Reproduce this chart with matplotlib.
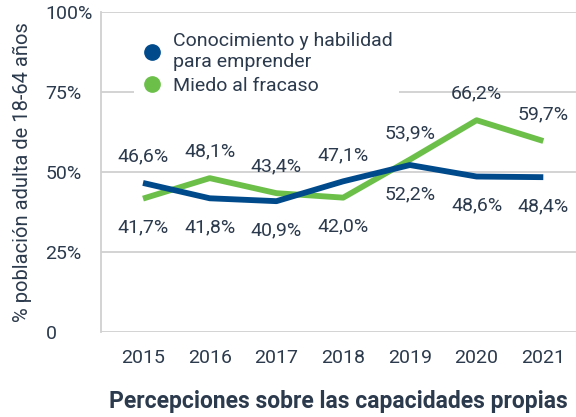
import numpy as np
import matplotlib
matplotlib.use('Agg')
import matplotlib.pyplot as plt

plt.rcParams['font.family'] = ['Roboto', 'DejaVu Sans']

years = [2015, 2016, 2017, 2018, 2019, 2020, 2021]
conocimiento = [46.6, 41.8, 40.9, 47.1, 52.2, 48.6, 48.4]
miedo = [41.7, 48.1, 43.4, 42.0, 53.9, 66.2, 59.7]
yticks = [0, 25, 50, 75, 100]
ytick_labels = ['0', '25%', '50%', '75%', '100%']

blue = '#004a8c'
green = '#6cc04a'
txt = '#2c3a4d'
grid = '#d0d0d0'

fig = plt.figure(figsize=(5.76, 4.17), dpi=100)
ax = fig.add_axes([0.1753, 0.2038, 0.8247, 0.7672])

ax.plot(years, conocimiento, color=blue, lw=4.2, solid_capstyle='butt', zorder=3)
ax.plot(years, miedo, color=green, lw=4.2, solid_capstyle='butt', zorder=2)

def fmt(v):
    return f'{v:.1f}%'.replace('.', ',')

for x, a, b in zip(years, conocimiento, miedo):
    hi, lo = max(a, b), min(a, b)
    ax.annotate(fmt(hi), (x, hi), xytext=(0, 19), textcoords='offset points',
                ha='center', va='center', fontsize=14, color=txt)
    ax.annotate(fmt(lo), (x, lo), xytext=(0, -21), textcoords='offset points',
                ha='center', va='center', fontsize=14, color=txt)

ax.set_xlim(2014.37, 2021.49)
ax.set_ylim(0, 100)
ax.set_yticks(yticks)
ax.set_yticklabels(ytick_labels)
ax.set_xticks(years)
ax.tick_params(axis='both', length=0, labelsize=14, labelcolor=txt)
ax.tick_params(axis='y', pad=40)
for t in ax.get_yticklabels():
    t.set_horizontalalignment('left')
ax.tick_params(axis='x', pad=12)
ax.yaxis.grid(True, color=grid, lw=1.3)
ax.set_axisbelow(True)
for s in ['top', 'right', 'bottom']:
    ax.spines[s].set_visible(False)
ax.spines['left'].set_color(grid)
ax.spines['left'].set_linewidth(1.3)

ax.set_ylabel('% población adulta de 18-64 años', fontsize=14.5, color=txt)
ax.yaxis.set_label_coords(-0.145, 0.5)
ax.set_xlabel('Percepciones sobre las capacidades propias', fontsize=16.5,
              fontweight='bold', color=txt, labelpad=17)

handles = [plt.Line2D([], [], marker='o', ls='', ms=11, color=blue),
           plt.Line2D([], [], marker='o', ls='', ms=11, color=green)]
leg = ax.legend(handles, ['Conocimiento y habilidad\npara emprender', 'Miedo al fracaso'],
                loc='upper left', bbox_to_anchor=(0.05, 0.985), frameon=True,
                fontsize=14, labelcolor=txt, handletextpad=0.5, handlelength=1.2,
                labelspacing=0.3, borderpad=0.3)
leg.get_frame().set_facecolor('white')
leg.get_frame().set_edgecolor('none')
leg.get_frame().set_alpha(1)

fig.savefig('out.png', dpi=100)
